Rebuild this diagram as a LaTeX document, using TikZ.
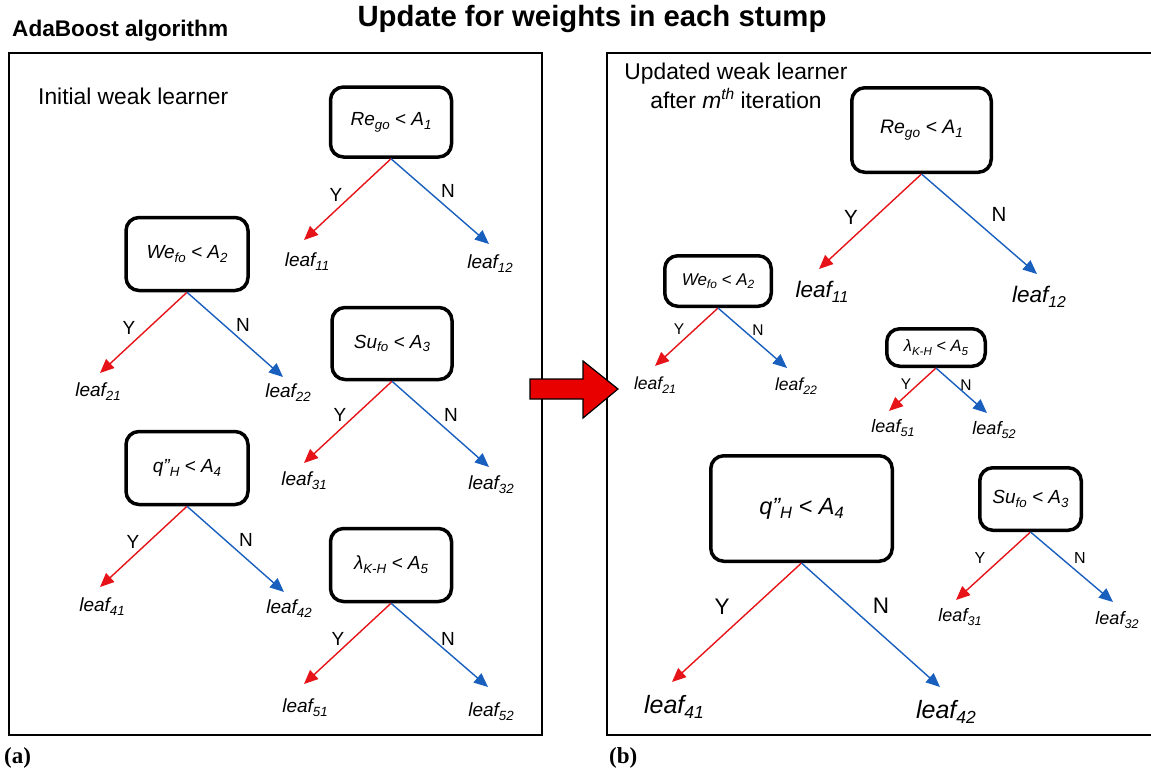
\documentclass[tikz,border=0pt]{standalone}
\usepackage{fontspec}
\usepackage{graphicx}
\setmainfont{Liberation Sans}
\newfontfamily\serifbf{Liberation Serif}
\usetikzlibrary{arrows.meta}
\definecolor{yesred}{RGB}{230,20,25}
\definecolor{noblue}{RGB}{25,95,190}
\definecolor{bigred}{RGB}{232,0,0}
\newcommand\fsz[1]{\fontsize{#1}{#1}\selectfont}
\newcommand\sbs[1]{\raisebox{-0.38ex}{\scalebox{0.7}{#1}}}
\newcommand\sps[1]{\raisebox{0.8ex}{\scalebox{0.68}{#1}}}
\tikzset{
  stump/.style={draw, line width=3.5pt, rounded corners=13pt, inner sep=0pt, align=center, font=\itshape},
  yesarr/.style={draw=yesred, line width=1.4pt, -{Triangle[length=14pt,width=12pt]}},
  noarr/.style={draw=noblue, line width=1.4pt, -{Triangle[length=14pt,width=12pt]}},
  lbl/.style={inner sep=0pt},
  leafs/.style={inner sep=0pt, font=\itshape},
  frame/.style={draw, line width=1.8pt},
}
\begin{document}
\begin{tikzpicture}[x=1pt,y=-1pt]
\useasboundingbox (0,0) rectangle (1151,774);

% titles
\node[lbl] (title) at (592,19) {\fsz{29.3}\bfseries Update for weights in each stump};
\node[lbl, anchor=west] (ada) at (12,31) {\fsz{22.6}\bfseries AdaBoost algorithm};
\node[lbl, anchor=west] (pa) at (4,758) {\fsz{23}\serifbf\bfseries (a)};
\node[lbl, anchor=west] (pb) at (609,758) {\fsz{23}\serifbf\bfseries (b)};

% frames
\draw[frame] (9,53) rectangle (542,735);
\draw[frame] (1155,53) -- (607,53) -- (607,735) -- (1155,735);

\node[lbl, anchor=west] (init) at (38,96) {\fsz{22.8}Initial weak learner};
\node[lbl, align=center] (upd) at (736,86) {\fsz{22.8}Updated weak learner\\[3pt]\fsz{22.8}after \textit{m}\sps{\textit{th}} iteration};

% ---------- left panel ----------
\node[stump, minimum width=121pt, minimum height=70pt] (a1) at (391,122) {\fsz{19}Re\sbs{go} < A\sbs{1}};
\node[stump, minimum width=122pt, minimum height=73pt] (a2) at (187,254) {\fsz{19}We\sbs{fo} < A\sbs{2}};
\node[stump, minimum width=120pt, minimum height=72pt] (a3) at (392,343.5) {\fsz{19}Su\sbs{fo} < A\sbs{3}};
\node[stump, minimum width=122pt, minimum height=73pt] (a4) at (187,468) {\fsz{19}q”\sbs{H} < A\sbs{4}};
\node[stump, minimum width=121pt, minimum height=73pt] (a5) at (391,565) {\fsz{19}λ\sbs{K-H} < A\sbs{5}};

\coordinate (a1y) at (304,240); \coordinate (a1n) at (489,244);
\coordinate (a2y) at (100,373); \coordinate (a2n) at (283,377);
\coordinate (a3y) at (304,463); \coordinate (a3n) at (489,467);
\coordinate (a4y) at (100,587); \coordinate (a4n) at (284,592);
\coordinate (a5y) at (304,684); \coordinate (a5n) at (488,687);

\foreach \n in {a1,a2,a3,a4,a5}{
  \draw[yesarr] (\n.south) -- (\n y);
  \draw[noarr] (\n.south) -- (\n n);
}

\node[lbl] (a1Y) at (336,195) {\fsz{19}Y}; \node[lbl] (a1N) at (448,191) {\fsz{19}N};
\node[lbl] (a2Y) at (129,328) {\fsz{19}Y}; \node[lbl] (a2N) at (243,325) {\fsz{19}N};
\node[lbl] (a3Y) at (340,415) {\fsz{19}Y}; \node[lbl] (a3N) at (451,415) {\fsz{19}N};
\node[lbl] (a4Y) at (133,542) {\fsz{19}Y}; \node[lbl] (a4N) at (246,540) {\fsz{19}N};
\node[lbl] (a5Y) at (338,639) {\fsz{19}Y}; \node[lbl] (a5N) at (448,639) {\fsz{19}N};

\node[leafs] (l11) at (307,262) {\fsz{19}leaf\sbs{11}};
\node[leafs] (l12) at (490,264) {\fsz{19}leaf\sbs{12}};
\node[leafs] (l21) at (98,392) {\fsz{19}leaf\sbs{21}};
\node[leafs] (l22) at (288,393) {\fsz{19}leaf\sbs{22}};
\node[leafs] (l31) at (304,481) {\fsz{19}leaf\sbs{31}};
\node[leafs] (l32) at (491,485) {\fsz{19}leaf\sbs{32}};
\node[leafs] (l41) at (102,607) {\fsz{19}leaf\sbs{41}};
\node[leafs] (l42) at (289,609) {\fsz{19}leaf\sbs{42}};
\node[leafs] (l51) at (305,708) {\fsz{19}leaf\sbs{51}};
\node[leafs] (l52) at (491,712) {\fsz{19}leaf\sbs{52}};

% ---------- right panel ----------
\node[stump, minimum width=139.5pt, minimum height=84.5pt] (b1) at (921.5,130) {\fsz{19.5}Re\sbs{go} < A\sbs{1}};
\node[stump, minimum width=106.5pt, minimum height=50.5pt] (b2) at (718,281) {\fsz{17}We\sbs{fo} < A\sbs{2}};
\node[stump, minimum width=98.5pt, minimum height=37.5pt] (b5) at (936,347.5) {\fsz{16.5}λ\sbs{K-H} < A\sbs{5}};
\node[stump, minimum width=181.5pt, minimum height=105.5pt] (b4) at (801.5,508.5) {\fsz{23.5}q”\sbs{H} < A\sbs{4}};
\node[stump, minimum width=101.5pt, minimum height=62.5pt] (b3) at (1030.5,499) {\fsz{19}Su\sbs{fo} < A\sbs{3}};

\coordinate (b1y) at (819,269); \coordinate (b1n) at (1037,274);
\coordinate (b2y) at (655,366); \coordinate (b2n) at (787,368);
\coordinate (b5y) at (889,411); \coordinate (b5n) at (987,413);
\coordinate (b4y) at (672,682); \coordinate (b4n) at (940,687);
\coordinate (b3y) at (956,600); \coordinate (b3n) at (1113,602);

\foreach \n in {b1,b2,b3,b4,b5}{
  \draw[yesarr] (\n.south) -- (\n y);
  \draw[noarr] (\n.south) -- (\n n);
}

\node[lbl] (b1Y) at (851,217) {\fsz{20.5}Y}; \node[lbl] (b1N) at (999,214) {\fsz{20.5}N};
\node[lbl] (b2Y) at (679,329) {\fsz{15.5}Y}; \node[lbl] (b2N) at (758,330) {\fsz{15.5}N};
\node[lbl] (b5Y) at (906,384) {\fsz{15.5}Y}; \node[lbl] (b5N) at (966,385) {\fsz{15.5}N};
\node[lbl] (b4Y) at (722,607) {\fsz{22.5}Y}; \node[lbl] (b4N) at (881,606) {\fsz{22.5}N};
\node[lbl] (b3Y) at (980,558) {\fsz{16}Y}; \node[lbl] (b3N) at (1080,558) {\fsz{16}N};

\node[leafs] (m11) at (822,292) {\fsz{22.5}leaf\sbs{11}};
\node[leafs] (m12) at (1039,297) {\fsz{22.5}leaf\sbs{12}};
\node[leafs] (m21) at (655,385) {\fsz{17.5}leaf\sbs{21}};
\node[leafs] (m22) at (796,386) {\fsz{17.5}leaf\sbs{22}};
\node[leafs] (m51) at (893,428) {\fsz{18}leaf\sbs{51}};
\node[leafs] (m52) at (994,430) {\fsz{18}leaf\sbs{52}};
\node[leafs] (m41) at (674,707) {\fsz{25}leaf\sbs{41}};
\node[leafs] (m42) at (946,712) {\fsz{25}leaf\sbs{42}};
\node[leafs] (m31) at (960,617) {\fsz{18}leaf\sbs{31}};
\node[leafs] (m32) at (1117,620) {\fsz{18}leaf\sbs{32}};

% big arrow
\draw[fill=bigred, line width=1.2pt, line join=miter] (530,379) -- (583,379) -- (583,361) -- (618,389) -- (583,418) -- (583,399) -- (530,399) -- cycle;
\end{tikzpicture}
\end{document}
